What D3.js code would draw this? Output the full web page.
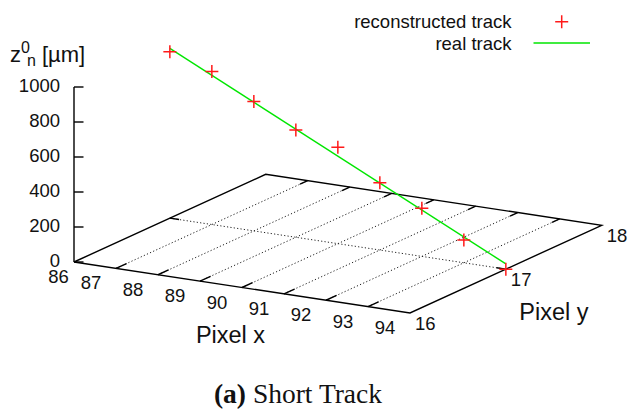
<!DOCTYPE html>
<html>
<head>
<meta charset="utf-8">
<script src="https://cdn.jsdelivr.net/npm/d3@7"></script>
<style>
  html, body { margin: 0; padding: 0; background: #fff; }
  svg { display: block; }
  text { font-family: "Liberation Sans", Arial, Helvetica, sans-serif; fill: #111; }
</style>
</head>
<body>
<svg id="chart" width="628" height="411"></svg>
<script>
// ---- data ----
const xTicks = [86, 87, 88, 89, 90, 91, 92, 93, 94];
const yTicks = [16, 17, 18];
const zTicks = [0, 200, 400, 600, 800, 1000];

// reconstructed track (one hit per pixel column)
const recoX = [86, 87, 88, 89, 90, 91, 92, 93, 94];
const recoY = [17, 17, 17, 17, 17, 17, 17, 17, 17];
const recoZ = [951, 874, 739, 613, 551, 385, 275, 130, 0];

// real (simulated) track: straight segment
const realX = [86, 94];
const realY = [17, 17];
const realZ = [970, 30];

const seriesNames = ["reconstructed track", "real track"];

// ---- 3D view (gnuplot-like splot) ----
const svg = d3.select("#chart");
const origin = [74, 262];            // screen point of (86, 16, 0)
const xVec = [336, 51];              // screen displacement across the full x range
const yVec = [191.7, -87.7];         // screen displacement across the full y range
const zVec = [0, -175];              // screen displacement across the full z range

const sx = d3.scaleLinear().domain([86, 94]).range([0, 1]);
const sy = d3.scaleLinear().domain([16, 18]).range([0, 1]);
const sz = d3.scaleLinear().domain([0, 1000]).range([0, 1]);

function proj(x, y, z) {
  const a = sx(x), b = sy(y), c = sz(z);
  return [origin[0] + a * xVec[0] + b * yVec[0] + c * zVec[0],
          origin[1] + a * xVec[1] + b * yVec[1] + c * zVec[1]];
}
const line = d3.line();

const base = svg.append("g");

// dotted grid on the base plane
const grid = base.append("g")
  .attr("stroke", "#222").attr("stroke-width", 1)
  .attr("stroke-dasharray", "1.2,2.2").attr("fill", "none");
xTicks.slice(1, -1).forEach(x => {
  grid.append("path").attr("d", line([proj(x, 16, 0), proj(x, 18, 0)]));
});
yTicks.slice(1, -1).forEach(y => {
  grid.append("path").attr("d", line([proj(86, y, 0), proj(94, y, 0)]));
});

// base border
const border = base.append("g")
  .attr("stroke", "#000").attr("stroke-width", 1.4).attr("fill", "none");
border.append("path").attr("d", line([
  proj(86, 16, 0), proj(94, 16, 0), proj(94, 18, 0), proj(86, 18, 0), proj(86, 16, 0)
]));

// ticks on the base plane
const ticks = base.append("g").attr("stroke", "#000").attr("stroke-width", 1.4);
xTicks.slice(1, -1).forEach(x => {
  ticks.append("path").attr("d", line([proj(x, 16, 0), proj(x, 16.11, 0)]));
  ticks.append("path").attr("d", line([proj(x, 18, 0), proj(x, 17.92, 0)]));
});
yTicks.slice(1, -1).forEach(y => {
  ticks.append("path").attr("d", line([proj(86, y, 0), proj(86.22, y, 0)]));
  ticks.append("path").attr("d", line([proj(94, y, 0), proj(93.78, y, 0)]));
});

// vertical z axis
const zAxis = base.append("g").attr("stroke", "#000").attr("stroke-width", 1.4);
zAxis.append("path").attr("d", line([proj(86, 16, 0), proj(86, 16, 1000)]));
zTicks.forEach(z => {
  const p = proj(86, 16, z);
  zAxis.append("path").attr("d", line([p, [p[0] + 9.5, p[1]]]));
});

// tick labels
const lab = svg.append("g").attr("font-size", 18.5);
zTicks.forEach(z => {
  const p = proj(86, 16, z);
  lab.append("text").attr("x", p[0] - 14).attr("y", p[1] - 1.5)
    .attr("text-anchor", "end").attr("dominant-baseline", "central").text(z);
});
xTicks.forEach((x, i) => {
  const p = proj(x, 16, 0);
  const nudge = i === 0 ? 9.5 : 0;    // keep the corner label clear of the z-axis "0"
  lab.append("text").attr("x", p[0] - 25 + nudge).attr("y", p[1] + 14.5)
    .attr("text-anchor", "middle").attr("dominant-baseline", "central").text(x);
});
yTicks.forEach(y => {
  const p = proj(94, y, 0);
  lab.append("text").attr("x", p[0] + 5).attr("y", p[1] + 10)
    .attr("text-anchor", "start").attr("dominant-baseline", "central").text(y);
});

// axis titles
const px = proj(90, 16, 0);
svg.append("text").attr("x", px[0] - 11.5).attr("y", px[1] + 55)
  .attr("text-anchor", "middle").attr("font-size", 23.5).text("Pixel x");
const py = proj(94, 17, 0);
svg.append("text").attr("x", py[0] + 48).attr("y", py[1] + 51)
  .attr("text-anchor", "middle").attr("font-size", 23.5).text("Pixel y");

const zt = svg.append("text").attr("x", 10).attr("y", 62).attr("font-size", 22);
zt.append("tspan").text("z");
zt.append("tspan").attr("font-size", 16).attr("dy", -9).text("0");
zt.append("tspan").attr("font-size", 16).attr("dx", -3).attr("dy", 13).text("n");
zt.append("tspan").attr("dy", -4).text(" [µm]");

// real track
svg.append("path")
  .attr("d", line(realX.map((x, i) => proj(x, realY[i], realZ[i]))))
  .attr("fill", "none").attr("stroke", "#00e600").attr("stroke-width", 1.4);

// reconstructed hits as '+' markers
const cross = (p, r) => `M${p[0] - r},${p[1]}H${p[0] + r}M${p[0]},${p[1] - r}V${p[1] + r}`;
svg.append("g").attr("stroke", "#ff1a1a").attr("stroke-width", 1.5).attr("fill", "none")
  .selectAll("path").data(recoX.map((x, i) => proj(x, recoY[i], recoZ[i])))
  .join("path").attr("d", d => cross(d, 6.5));

// legend
const leg = svg.append("g").attr("font-size", 18.5);
leg.append("text").attr("x", 511.5).attr("y", 21.7).attr("text-anchor", "end")
  .attr("dominant-baseline", "central").text(seriesNames[0]);
leg.append("path").attr("d", cross([561.7, 21.7], 6.5))
  .attr("stroke", "#ff1a1a").attr("stroke-width", 1.5);
leg.append("text").attr("x", 511.5).attr("y", 43.3).attr("text-anchor", "end")
  .attr("dominant-baseline", "central").text(seriesNames[1]);
leg.append("path").attr("d", line([[533.5, 43], [590, 43]]))
  .attr("stroke", "#00e600").attr("stroke-width", 1.4);

// caption
const cap = svg.append("text").attr("x", 298).attr("y", 402.5).attr("text-anchor", "middle")
  .attr("font-size", 27.5).style("font-family", '"Liberation Serif", "Times New Roman", serif');
cap.append("tspan").attr("font-weight", "bold").text("(a)");
cap.append("tspan").text(" Short Track");
</script>
</body>
</html>
